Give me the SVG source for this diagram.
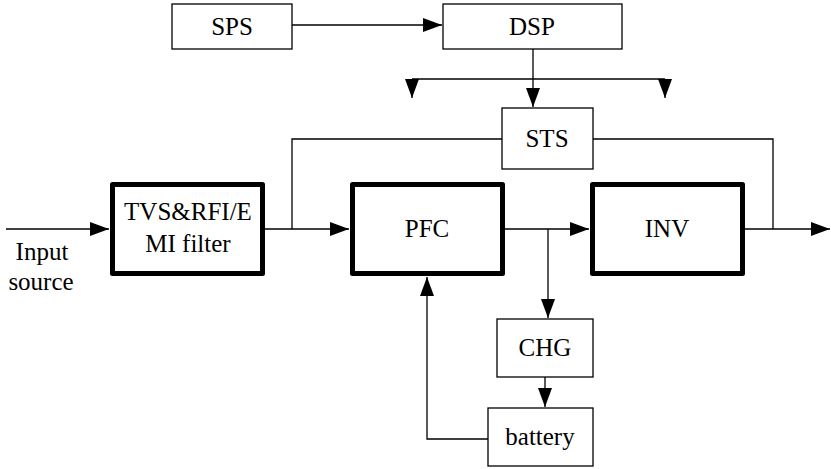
<svg xmlns="http://www.w3.org/2000/svg" width="831" height="469" viewBox="0 0 831 469">
<style>
.box{fill:#fff;stroke:#000;stroke-width:1.3}
.thick{fill:#fff;stroke:#000;stroke-width:5;stroke-linejoin:round}
.t{font-size:25px;fill:#000;text-anchor:middle}
.c{fill:none;stroke:#000;stroke-width:1.3}
</style>
<defs>
<marker id="ah" markerUnits="userSpaceOnUse" markerWidth="20" markerHeight="15" refX="19" refY="7" orient="auto">
<path d="M0,0 L19,7 L0,14 z" fill="#000"/>
</marker>
</defs>
<g id="connectors">
<path class="c" d="M292,25 H442" marker-end="url(#ah)"/>
<path class="c" d="M533,49 V107" marker-end="url(#ah)"/>
<path class="c" d="M412,79 H665"/>
<path class="c" d="M412,79 V98" marker-end="url(#ah)"/>
<path class="c" d="M665,79 V98" marker-end="url(#ah)"/>
<path class="c" d="M6,229 H109" marker-end="url(#ah)"/>
<path class="c" d="M265,229 H349" marker-end="url(#ah)"/>
<path class="c" d="M292,229 V139 H502"/>
<path class="c" d="M593,139 H773 V229"/>
<path class="c" d="M505,229 H589" marker-end="url(#ah)"/>
<path class="c" d="M548,229 V318" marker-end="url(#ah)"/>
<path class="c" d="M745,229 H830" marker-end="url(#ah)"/>
<path class="c" d="M545,377 V407" marker-end="url(#ah)"/>
<path class="c" d="M488,439 H427 V277" marker-end="url(#ah)"/>
</g>
<g font-family="'Liberation Serif', 'Times New Roman', 'DejaVu Serif', serif">
<g id="sps"><rect class="box" x="172" y="4" width="120" height="45"/><text class="t" x="232" y="35">SPS</text></g>
<g id="dsp"><rect class="box" x="443" y="4" width="179" height="45"/><text class="t" x="532" y="35">DSP</text></g>
<g id="sts"><rect class="box" x="502" y="108" width="91" height="61"/><text class="t" x="547" y="147">STS</text></g>
<g id="filter"><rect class="thick" x="112.5" y="184.5" width="150" height="89"/><text class="t" x="188" y="220">TVS&amp;RFI/E</text><text class="t" x="188" y="252">MI filter</text></g>
<g id="pfc"><rect class="thick" x="352.5" y="184.5" width="150" height="89"/><text class="t" x="427" y="237">PFC</text></g>
<g id="inv"><rect class="thick" x="592.5" y="184.5" width="150" height="89"/><text class="t" x="667" y="237">INV</text></g>
<g id="chg"><rect class="box" x="497" y="319" width="96" height="58"/><text class="t" x="545" y="356">CHG</text></g>
<g id="battery"><rect class="box" x="488" y="408" width="105" height="58"/><text class="t" x="540" y="445">battery</text></g>
<g id="input"><text class="t" x="42" y="260">Input</text><text class="t" x="41" y="290">source</text></g>
</g>
</svg>
